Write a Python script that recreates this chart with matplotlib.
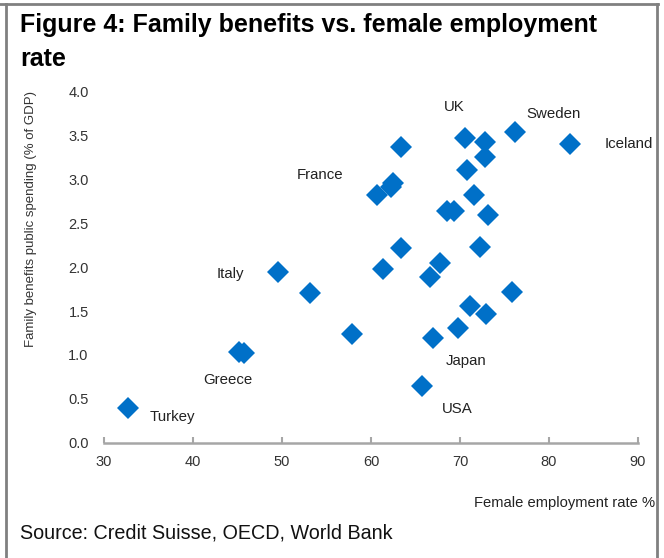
import matplotlib.pyplot as plt
from matplotlib.lines import Line2D

# female employment rate (%) vs family benefits spending (% of GDP)
emp_rate = [32.7, 45.2, 45.7, 49.5, 53.2, 57.9, 61.3, 63.4, 62.5, 62.2, 60.7,
            63.4, 70.6, 72.8, 72.8, 76.2, 82.4, 70.8, 71.6, 68.5, 69.3, 73.2,
            72.3, 67.7, 66.6, 75.9, 71.1, 72.9, 69.8, 67.0, 65.7]
benefits = [0.40, 1.03, 1.02, 1.94, 1.70, 1.24, 1.98, 3.36, 2.95, 2.91, 2.82,
            2.22, 3.47, 3.42, 3.25, 3.53, 3.40, 3.10, 2.82, 2.64, 2.64, 2.59,
            2.23, 2.05, 1.89, 1.72, 1.56, 1.47, 1.31, 1.19, 0.65]

country_names = ["Turkey", "Greece", "Italy", "France", "UK", "Sweden",
                 "Iceland", "Japan", "USA"]
label_x = [35.1, 43.9, 45.8, 56.9, 69.4, 77.5, 86.2, 68.4, 69.7]
label_y = [0.30, 0.72, 1.92, 3.05, 3.82, 3.74, 3.40, 0.93, 0.39]
label_ha = ["left", "center", "right", "right", "center", "left", "left",
            "left", "center"]

x_ticks = [30, 40, 50, 60, 70, 80, 90]
y_ticks = [0.0, 0.5, 1.0, 1.5, 2.0, 2.5, 3.0, 3.5, 4.0]

plt.rcParams['font.family'] = ['Liberation Sans', 'DejaVu Sans']

fig = plt.figure(figsize=(6.64, 5.58), dpi=100)
ax = fig.add_axes([0.1566, 0.2061, 0.8042, 0.6308])

ax.plot(emp_rate, benefits, linestyle='none', marker='D', ms=11.5,
        color='#0070C8', markeredgewidth=0, clip_on=False)

for name, lx, ly, ha in zip(country_names, label_x, label_y, label_ha):
    ax.text(lx, ly, name, ha=ha, va='center', fontsize=10.8, color='#222222')

ax.set_xlim(30, 90)
ax.set_ylim(0, 4)
ax.set_xticks(x_ticks)
ax.set_yticks(y_ticks)
ax.set_yticklabels([f"{v:.1f}" for v in y_ticks])

for side in ['top', 'right', 'left']:
    ax.spines[side].set_visible(False)
ax.spines['bottom'].set_color('#A6A6A6')
ax.spines['bottom'].set_linewidth(1.8)
ax.tick_params(axis='x', direction='in', length=4, width=1.5,
               color='#A6A6A6', pad=9, labelsize=10.5, labelcolor='#333333')
ax.tick_params(axis='y', length=0, pad=11, labelsize=10.5,
               labelcolor='#333333')

ax.set_ylabel("Family benefits public spending (% of GDP)", fontsize=9.5,
              color='#333333')
ax.yaxis.set_label_coords(-0.125, 0.636)
fig.text(0.987, 0.0986, "Female employment rate %", ha='right', va='center',
         fontsize=10.6, color='#222222')

fig.text(0.030, 0.976, "Figure 4: Family benefits vs. female employment\nrate",
         ha='left', va='top', fontsize=18, fontweight='bold',
         linespacing=1.48, color='black')
fig.text(0.030, 0.045, "Source: Credit Suisse, OECD, World Bank", ha='left',
         va='center', fontsize=14.2, color='#111111')

# thin grey frame around the figure box
frame = dict(color='#808080', linewidth=2, transform=fig.transFigure)
fig.add_artist(Line2D([0.0, 0.991], [0.992, 0.992], **frame))
fig.add_artist(Line2D([0.009, 0.009], [0.0, 0.992], **frame))
fig.add_artist(Line2D([0.989, 0.989], [0.0, 0.992], **frame))

fig.savefig("out.png", dpi=100)
